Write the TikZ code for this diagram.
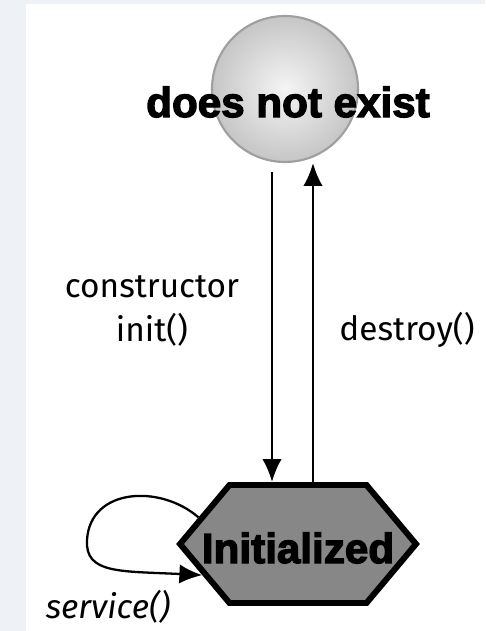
\documentclass[tikz,border=0pt]{standalone}
\usepackage{fontspec}
\setmainfont{Fira Sans}
\newfontfamily\heavyfont[FakeBold=3]{Liberation Sans Bold}
\usetikzlibrary{calc}
\usetikzlibrary{arrows.meta}
\usetikzlibrary{shapes.symbols}
\definecolor{pagebg}{HTML}{EEF2F7}

\tikzset{
  flow/.style={black, line width=1.3pt, -{Latex[length=13pt,width=11pt]}},
  state/.style={font=\heavyfont\fontsize{24}{26}\selectfont, inner sep=0pt},
  call/.style={font=\fontsize{19}{25}\selectfont, align=center, inner sep=1pt}
}

\begin{document}
\begin{tikzpicture}[x=0.02cm, y=-0.02cm]
\useasboundingbox (0,0) rectangle (485,631);
\fill[pagebg] (0,0) rectangle (485,631);
\fill[white] (26,4) rectangle (485,631);

% start state: shaded ball
\node[circle, minimum size=146*0.02cm, inner sep=0pt,
      draw=gray!75, line width=1.2pt,
      shading=radial, inner color=gray!8, outer color=gray!45] (exist) at (285,89) {};
\node[state] (existlbl) at (288,102) {does not exist};

% running state: hexagon
\node[signal, signal to=west and east, signal pointer angle=100,
      draw=black, line width=3.4pt, fill=black!47,
      minimum width=236*0.02cm, minimum height=118*0.02cm,
      inner sep=0pt] (init) at (298,544) {};
\node[state] (initlbl) at (298,548) {Initialized};

% transitions
\draw[flow] ($(exist.south)+(-13,9)$) -- ($(init.north)+(-26,0)$);
\draw[flow] ($(init.north)+(15,0)$) -- ($(exist.south)+(28,0)$);
\draw[flow] (init.165) .. controls (160,484) and (90,488) .. (87,540)
  .. controls (85,574) and (120,571) .. (init.198);

% labels
\node[call] (ctor) at (152,311) {constructor\\init()};
\node[call] (dtor) at (407,330) {destroy()};
\node[call, font=\itshape\fontsize{19}{25}\selectfont] (svc) at (108,607) {service()};
\end{tikzpicture}
\end{document}
